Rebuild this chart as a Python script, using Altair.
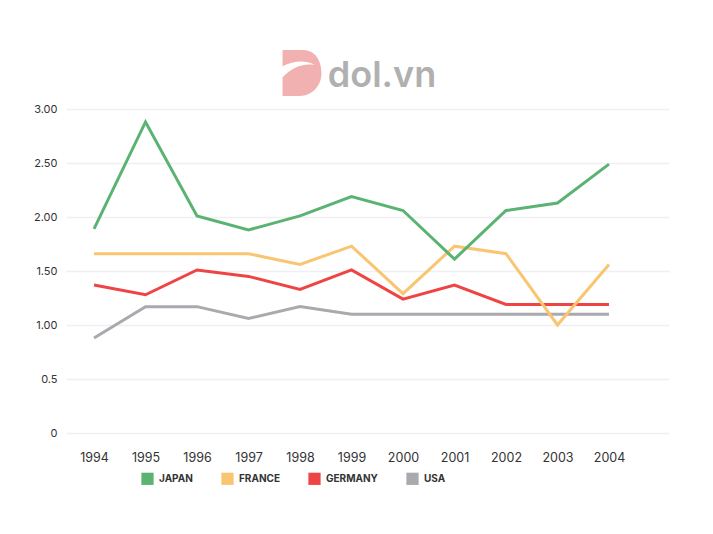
import altair as alt
import pandas as pd

years = list(range(1994, 2005))
japan = [1.89, 2.88, 2.01, 1.88, 2.01, 2.19, 2.06, 1.61, 2.06, 2.13, 2.49]
france = [1.66, 1.66, 1.66, 1.66, 1.56, 1.73, 1.29, 1.73, 1.66, 1.00, 1.56]
germany = [1.37, 1.28, 1.51, 1.45, 1.33, 1.51, 1.24, 1.37, 1.19, 1.19, 1.19]
usa = [0.88, 1.17, 1.17, 1.06, 1.17, 1.10, 1.10, 1.10, 1.10, 1.10, 1.10]

countries = ["JAPAN", "FRANCE", "GERMANY", "USA"]
colors = ["#5bb373", "#fac571", "#ef4444", "#a9a9ae"]
series = {"JAPAN": japan, "FRANCE": france, "GERMANY": germany, "USA": usa}

rows = []
for c in countries:
    for y, v in zip(years, series[c]):
        rows.append({"year": y, "value": v, "country": c})
df = pd.DataFrame(rows)

FONT = "Inter"

x = alt.X("year:Q",
          scale=alt.Scale(domain=[1993.456, 2005.165], nice=False, zero=False),
          axis=alt.Axis(values=years, format="d", title=None, grid=False, domain=False,
                        ticks=False, labelPadding=18, labelFontSize=12.5, labelColor="#333",
                        labelFont=FONT))
y = alt.Y("value:Q",
          scale=alt.Scale(domain=[0, 3], nice=False),
          axis=alt.Axis(values=[0, 0.5, 1, 1.5, 2, 2.5, 3], title=None, domain=False, ticks=False,
                        labelPadding=9, labelFontSize=11, labelColor="#333", labelFont=FONT,
                        gridColor="#f0f0f4", gridWidth=1.5,
                        labelExpr="datum.value == 0 ? '0' : (datum.value == 0.5 ? '0.5' : format(datum.value, '.2f'))"))
color = alt.Color("country:N",
                  scale=alt.Scale(domain=countries, range=colors),
                  legend=alt.Legend(title=None, orient="none", direction="horizontal",
                                    legendX=75, legendY=363, symbolType="square",
                                    symbolSize=3, symbolStrokeWidth=10.5, symbolOpacity=1,
                                    labelFont=FONT, labelFontSize=10, labelFontWeight="bold",
                                    labelColor="#333", labelOffset=5, columnPadding=12))

layers = []
for c in ["USA", "GERMANY", "FRANCE", "JAPAN"]:
    layers.append(
        alt.Chart(df).transform_filter(alt.datum.country == c)
        .mark_line(strokeWidth=3, strokeJoin="miter")
        .encode(x=x, y=y, color=color)
    )

logo_d = alt.Chart(pd.DataFrame({"a": [0]})).mark_point(
    shape="M-0.85,-1 L0.05,-1 C0.6,-1 0.85,-0.5 0.85,0 C0.85,0.55 0.45,1 -0.1,1 L-0.85,1 L-0.85,0.2 C-0.5,-0.2 0,-0.45 0.55,-0.35 C0.1,-0.6 -0.4,-0.5 -0.85,-0.3 Z",
    filled=True, color="#f1b1b1", opacity=1, size=2100
).encode(x=alt.value(236), y=alt.value(-36))

logo_t = alt.Chart(pd.DataFrame({"t": ["dol.vn"]})).mark_text(
    font=FONT, fontSize=36, fontWeight=600, color="#b0b0b0", align="center", baseline="alphabetic"
).encode(x=alt.value(316), y=alt.value(-22), text="t:N")

chart = alt.layer(*layers, logo_d, logo_t).properties(
    width=603, height=324,
    autosize=alt.AutoSizeParams(type="none"),
    padding={"left": 58, "top": 101, "right": 36, "bottom": 85},
    background="white",
).configure_view(stroke=None)

chart.save("out.html", embed_options={"renderer": "svg", "actions": False})
